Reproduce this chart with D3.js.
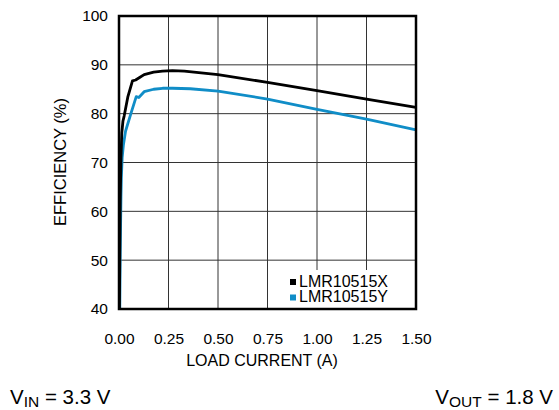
<!DOCTYPE html>
<html lang="en">
  <head>
    <meta charset="UTF-8" />
    <title>Efficiency vs Load Current</title>
    <script src="https://d3js.org/d3.v7.min.js"></script>
    <style>
      body { margin: 0; background: #fff; }
      text { font-family: "Liberation Sans", Arial, sans-serif; fill: #000; }
    </style>
  </head>
  <body>
    <svg width="559" height="410"></svg>
    <script>
      // data
      var xTicks = [0, 0.25, 0.5, 0.75, 1.0, 1.25, 1.5];
      var yTicks = [40, 50, 60, 70, 80, 90, 100];
      var seriesNames = ["LMR10515X", "LMR10515Y"];
      var currentX = [0.002, 0.006, 0.010, 0.014, 0.020, 0.026, 0.045, 0.068, 0.084, 0.10, 0.127, 0.175, 0.22, 0.27, 0.33, 0.5, 0.75, 1.0, 1.25, 1.5];
      var effX =     [40,    62,    71,    76,    78.5,  79.5,  83.5,  86.7,  86.9,  87.3, 88.0,  88.5,  88.7, 88.8, 88.7, 88.0, 86.4, 84.7, 83.0, 81.3];
      var currentY = [0.004, 0.006, 0.008, 0.010, 0.012, 0.016, 0.022, 0.033, 0.06, 0.087, 0.10, 0.127, 0.175, 0.22, 0.27, 0.36, 0.5, 0.75, 1.0, 1.25, 1.5];
      var effY =     [40,    50,    57,    63,    67,    71,    73.5,  76.4,  80.0, 83.5,  83.3, 84.5,  85.0,  85.2, 85.2, 85.1, 84.6, 83.0, 80.9, 78.9, 76.7];
      var colors = ["#000000", "#108dc7"];

      var marge = { top: 16, left: 119, right: 143, bottom: 101 };
      var svg = d3.select("svg");
      var width = 559 - marge.left - marge.right;
      var height = 410 - marge.top - marge.bottom;

      var xScale = d3.scaleLinear().domain([0, 1.5]).range([0, width]);
      var yScale = d3.scaleLinear().domain([40, 100]).range([height, 0]);

      var g = svg.append("g").attr("transform", `translate(${marge.left},${marge.top})`);

      // grid
      g.append("g")
        .selectAll("line")
        .data(xTicks.slice(1, -1))
        .enter()
        .append("line")
        .attr("x1", d => xScale(d)).attr("x2", d => xScale(d))
        .attr("y1", 0).attr("y2", height)
        .attr("stroke", "#333").attr("stroke-width", 1);
      g.append("g")
        .selectAll("line")
        .data(yTicks.slice(1, -1))
        .enter()
        .append("line")
        .attr("x1", 0).attr("x2", width)
        .attr("y1", d => yScale(d)).attr("y2", d => yScale(d))
        .attr("stroke", "#333").attr("stroke-width", 1);

      // legend background hides grid
      g.append("rect")
        .attr("x", 166).attr("y", 254)
        .attr("width", width - 166).attr("height", height - 254)
        .attr("fill", "#fff");

      // curves
      var line = d3.line().x(d => xScale(d[0])).y(d => yScale(d[1]));
      var dataX = currentX.map((c, i) => [c, effX[i]]);
      var dataY = currentY.map((c, i) => [c, effY[i]]);
      [dataY, dataX].forEach((d, i) => {
        g.append("path")
          .datum(d)
          .attr("fill", "none")
          .attr("stroke", i === 0 ? colors[1] : colors[0])
          .attr("stroke-width", 2.8)
          .attr("stroke-linejoin", "round")
          .attr("d", line);
      });

      // frame
      g.append("rect")
        .attr("x", 0).attr("y", 0)
        .attr("width", width).attr("height", height)
        .attr("fill", "none").attr("stroke", "#000").attr("stroke-width", 2.5);

      // axes tick labels
      var yAxis = d3.axisLeft(yScale).tickValues(yTicks).tickSize(0).tickPadding(11);
      var ya = g.append("g").call(yAxis);
      ya.select(".domain").remove();
      ya.selectAll("text").style("font-size", "15.5px").style("font-family", "Liberation Sans, Arial, sans-serif");

      var xAxis = d3.axisBottom(xScale).tickValues(xTicks).tickFormat(d3.format(".2f")).tickSize(0).tickPadding(24);
      var xa = g.append("g").attr("transform", `translate(0,${height})`).call(xAxis);
      xa.select(".domain").remove();
      xa.selectAll("text").style("font-size", "15.5px").style("font-family", "Liberation Sans, Arial, sans-serif");

      // titles
      svg.append("text")
        .attr("x", 262).attr("y", 366)
        .attr("text-anchor", "middle").style("font-size", "16px")
        .text("LOAD CURRENT (A)");
      svg.append("text")
        .attr("transform", "translate(66,162) rotate(-90)")
        .attr("text-anchor", "middle").style("font-size", "16.5px")
        .text("EFFICIENCY (%)");

      // legend
      var lg = g.append("g").attr("transform", "translate(171,263)");
      seriesNames.forEach((name, i) => {
        lg.append("rect")
          .attr("x", 0).attr("y", i * 15.5)
          .attr("width", 6).attr("height", 6)
          .attr("fill", colors[i]);
        lg.append("text")
          .attr("x", 9).attr("y", i * 15.5 + 7.5)
          .style("font-size", "16px")
          .text(name);
      });

      // conditions
      var vin = svg.append("text").attr("x", 10).attr("y", 404).style("font-size", "20.5px");
      vin.append("tspan").text("V");
      vin.append("tspan").attr("dy", 3).style("font-size", "15.5px").text("IN");
      vin.append("tspan").attr("dy", -3).text(" = 3.3 V");
      var vout = svg.append("text").attr("x", 553).attr("y", 404).attr("text-anchor", "end").style("font-size", "20.5px");
      vout.append("tspan").text("V");
      vout.append("tspan").attr("dy", 3).style("font-size", "15.5px").text("OUT");
      vout.append("tspan").attr("dy", -3).text(" = 1.8 V");
    </script>
  </body>
</html>
